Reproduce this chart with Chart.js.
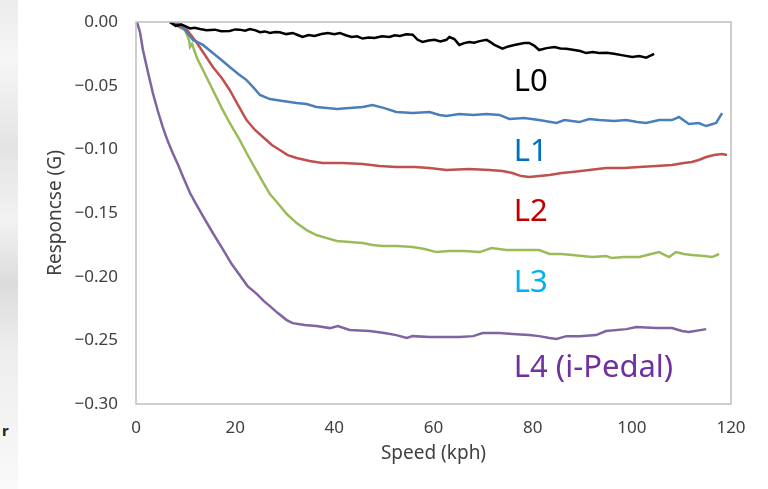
<!DOCTYPE html>
<html>
<head>
<meta charset="utf-8">
<script src="https://cdn.jsdelivr.net/npm/chart.js@4.4.0/dist/chart.umd.min.js"></script>
<style>
  html, body { margin: 0; padding: 0; background: #fff; }
  #wrap { position: relative; width: 768px; height: 489px; overflow: hidden; }
  #slideEdge {
    position: absolute; left: 0; top: 0; width: 18px; height: 489px;
    background: linear-gradient(180deg, #ececec 0%, #f6f6f6 12%, #e4e4e4 30%, #f2f2f2 45%, #dcdcdc 58%, #eeeeee 72%, #f4f4f4 88%, #fafafa 100%);
  }
  #stray { position: absolute; left: 2px; top: 420px; font: bold 15px "Noto Sans", sans-serif; color: #222; }
  canvas { position: absolute; left: 0; top: 0; }
</style>
</head>
<body>
<div id="wrap">
  <div id="slideEdge"></div>
  <div id="stray">r</div>
  <canvas id="chart" width="768" height="489"></canvas>
</div>
<script>
// Speed (kph) / response (G) pairs
const l0Speed = [6.8, 8.0, 9.2, 10.9, 11.8, 12.9, 14.2, 15.9, 17.2, 18.9, 20.0, 20.9, 22.0, 23.0, 24.1, 25.0, 26.0, 27.0, 28.1, 29.0, 30.3, 31.6, 32.6, 33.6, 34.8, 36.0, 37.4, 38.7, 40.0, 41.1, 42.3, 43.5, 44.6, 45.7, 46.9, 48.1, 49.6, 51.1, 52.2, 53.2, 54.5, 55.8, 56.8, 57.8, 59.0, 60.2, 61.4, 62.6, 63.2, 64.2, 65.2, 66.2, 67.2, 68.2, 69.3, 70.7, 71.5, 72.3, 73.9, 75.1, 76.3, 77.3, 78.3, 79.3, 80.3, 81.3, 82.8, 84.4, 85.6, 86.8, 88.4, 89.6, 90.8, 92.1, 93.4, 94.9, 96.4, 98.2, 100.1, 101.5, 102.9, 104.5];
const l0Resp = [0.000, -0.003, -0.002, -0.005, -0.0045, -0.0055, -0.0065, -0.006, -0.0072, -0.007, -0.0058, -0.006, -0.0068, -0.0055, -0.0066, -0.008, -0.0074, -0.0086, -0.0079, -0.008, -0.0095, -0.0086, -0.0102, -0.0118, -0.0102, -0.011, -0.0094, -0.0086, -0.0096, -0.0086, -0.0104, -0.0118, -0.0112, -0.013, -0.0121, -0.0126, -0.0112, -0.0118, -0.0104, -0.011, -0.0096, -0.010, -0.014, -0.0157, -0.0146, -0.014, -0.0152, -0.014, -0.0118, -0.0134, -0.018, -0.0166, -0.0157, -0.0162, -0.015, -0.014, -0.0158, -0.018, -0.021, -0.0192, -0.018, -0.0172, -0.0165, -0.0165, -0.0185, -0.022, -0.0205, -0.0196, -0.0208, -0.021, -0.022, -0.0228, -0.0244, -0.0236, -0.0244, -0.0241, -0.025, -0.0262, -0.0275, -0.0267, -0.028, -0.025];

const l1Speed = [6.8, 8.9, 11.5, 13.5, 15.5, 17.3, 18.9, 20.7, 22.3, 23.8, 25.0, 27.0, 29.6, 32.4, 34.4, 36.4, 38.5, 40.5, 43.1, 45.7, 47.7, 50.1, 52.5, 55.8, 59.2, 61.2, 62.6, 65.2, 68.0, 70.7, 73.3, 75.3, 78.3, 81.3, 84.8, 86.4, 89.4, 91.4, 93.4, 96.4, 98.9, 101.1, 102.9, 105.5, 108.1, 109.5, 111.5, 113.5, 115.0, 117.0, 118.2];
const l1Resp = [0.000, -0.0016, -0.0141, -0.018, -0.0244, -0.030, -0.0353, -0.041, -0.0456, -0.0519, -0.0573, -0.0605, -0.062, -0.0636, -0.0644, -0.0668, -0.0676, -0.0683, -0.0676, -0.0668, -0.0652, -0.0676, -0.0707, -0.0715, -0.0707, -0.073, -0.0738, -0.0723, -0.073, -0.0723, -0.073, -0.0762, -0.0754, -0.077, -0.0793, -0.077, -0.0786, -0.0762, -0.077, -0.0778, -0.077, -0.0786, -0.0793, -0.077, -0.077, -0.0746, -0.0801, -0.0793, -0.0817, -0.0793, -0.0715];

const l2Speed = [7.4, 10.3, 12.3, 13.9, 15.5, 17.3, 18.9, 20.7, 22.3, 24.0, 25.6, 27.4, 29.0, 30.6, 32.4, 35.0, 37.6, 41.7, 45.7, 49.1, 52.5, 56.2, 59.2, 62.6, 67.2, 71.3, 73.9, 75.9, 77.7, 79.3, 81.3, 83.4, 85.8, 88.0, 91.4, 94.8, 98.4, 101.5, 104.9, 108.1, 110.5, 112.1, 113.5, 115.0, 116.6, 118.2, 119.2];
const l2Resp = [-0.0008, -0.0063, -0.0165, -0.0259, -0.0353, -0.044, -0.0534, -0.066, -0.077, -0.0848, -0.0903, -0.0966, -0.1005, -0.1045, -0.1068, -0.1092, -0.1108, -0.1108, -0.1115, -0.1131, -0.1139, -0.1139, -0.1147, -0.1163, -0.1155, -0.1163, -0.117, -0.1186, -0.121, -0.1218, -0.121, -0.1202, -0.1186, -0.1178, -0.1163, -0.1147, -0.1147, -0.1139, -0.1131, -0.1123, -0.1108, -0.110, -0.1084, -0.106, -0.1045, -0.1037, -0.1045];

const l3Speed = [7.2, 9.9, 10.7, 10.9, 11.3, 12.3, 13.9, 15.5, 17.3, 18.9, 20.7, 22.3, 24.0, 25.6, 27.0, 28.4, 30.4, 32.4, 34.4, 36.4, 38.5, 40.5, 43.1, 45.7, 47.7, 49.7, 52.7, 55.8, 58.2, 60.6, 63.2, 66.2, 69.3, 71.7, 74.7, 78.3, 81.3, 83.4, 85.8, 88.0, 92.0, 94.8, 96.0, 98.4, 101.5, 103.9, 105.5, 106.7, 107.5, 108.9, 110.5, 112.1, 114.6, 116.2, 117.6];
const l3Resp = [-0.0008, -0.0063, -0.0141, -0.0196, -0.0173, -0.0283, -0.0408, -0.0534, -0.0676, -0.0793, -0.0911, -0.1029, -0.1147, -0.1257, -0.1351, -0.1414, -0.1508, -0.1579, -0.1634, -0.1673, -0.1697, -0.172, -0.1728, -0.1736, -0.1752, -0.176, -0.176, -0.1767, -0.1783, -0.1807, -0.1799, -0.1799, -0.1807, -0.1775, -0.1791, -0.1791, -0.1791, -0.1822, -0.1822, -0.183, -0.1846, -0.1838, -0.1854, -0.1846, -0.1846, -0.1822, -0.1807, -0.183, -0.1846, -0.1807, -0.1822, -0.183, -0.1838, -0.1846, -0.1822];

const l4Speed = [0.2, 0.8, 1.4, 2.4, 3.4, 4.4, 5.4, 6.4, 7.4, 8.5, 9.5, 10.9, 11.9, 13.5, 15.5, 17.5, 19.3, 20.9, 22.5, 24.4, 25.8, 27.0, 28.6, 30.4, 31.6, 34.0, 36.4, 39.1, 40.7, 43.1, 47.1, 50.1, 52.5, 54.6, 55.8, 59.2, 62.2, 65.2, 68.0, 69.9, 73.3, 75.9, 79.3, 81.3, 83.4, 84.8, 86.8, 89.4, 92.8, 94.8, 98.9, 100.9, 104.9, 108.1, 110.1, 111.5, 115.0];
const l4Resp = [0.000, -0.0079, -0.022, -0.0393, -0.0558, -0.0699, -0.0825, -0.0935, -0.1029, -0.1123, -0.1218, -0.1343, -0.1414, -0.1524, -0.1657, -0.1783, -0.1901, -0.1987, -0.2074, -0.2137, -0.2192, -0.2231, -0.2286, -0.2341, -0.2365, -0.238, -0.2388, -0.2404, -0.2388, -0.2419, -0.2427, -0.2443, -0.2459, -0.2482, -0.2467, -0.2474, -0.2474, -0.2474, -0.2467, -0.2443, -0.2443, -0.2451, -0.2459, -0.2467, -0.2482, -0.249, -0.2467, -0.2467, -0.2459, -0.2427, -0.2412, -0.2396, -0.2404, -0.2404, -0.2427, -0.2435, -0.2412];

const seriesNames = ['L0', 'L1', 'L2', 'L3', 'L4 (i-Pedal)'];
const lineColors = ['#000000', '#4a7ebb', '#c0504d', '#9bbb59', '#8064a2'];
const labelColors = ['#000000', '#0070c0', '#c00000', '#00b0f0', '#7030a0'];
// baseline anchor of each in-plot label, in data units (speed, response)
const labelSpeed = [76.2, 76.2, 76.2, 76.2, 76.2];
const labelResp = [-0.0542, -0.1092, -0.1563, -0.2121, -0.2789];

const xTicks = [0, 20, 40, 60, 80, 100, 120];
const yTicks = [0, -0.05, -0.10, -0.15, -0.20, -0.25, -0.30];

const speeds = [l0Speed, l1Speed, l2Speed, l3Speed, l4Speed];
const resps = [l0Resp, l1Resp, l2Resp, l3Resp, l4Resp];

function pairs(xs, ys) {
  return xs.map((x, i) => ({ x: x, y: ys[i] }));
}

const font = '"Noto Sans", "Open Sans", sans-serif';

// frame around the plot + the level labels
const framePlugin = {
  id: 'frameAndLabels',
  afterDatasetsDraw(chart) {
    const { ctx, chartArea, scales } = chart;
    ctx.save();
    ctx.strokeStyle = '#bfbfbf';
    ctx.lineWidth = 1.5;
    ctx.strokeRect(chartArea.left, chartArea.top, chartArea.right - chartArea.left, chartArea.bottom - chartArea.top);
    ctx.font = '31px ' + font;
    ctx.textBaseline = 'alphabetic';
    ctx.textAlign = 'left';
    seriesNames.forEach((name, i) => {
      ctx.fillStyle = labelColors[i];
      ctx.fillText(name, scales.x.getPixelForValue(labelSpeed[i]), scales.y.getPixelForValue(labelResp[i]));
    });
    ctx.restore();
  }
};

new Chart(document.getElementById('chart'), {
  type: 'line',
  data: {
    datasets: seriesNames.map((name, i) => ({
      label: name,
      data: pairs(speeds[i], resps[i]),
      borderColor: lineColors[i],
      borderWidth: 2.5,
      pointRadius: 0,
      tension: 0,
      fill: false
    }))
  },
  options: {
    responsive: false,
    animation: false,
    layout: { padding: { left: 44, right: 37, top: 22, bottom: 24 } },
    plugins: {
      legend: { display: false },
      tooltip: { enabled: false }
    },
    scales: {
      x: {
        type: 'linear',
        min: 0,
        max: 120,
        afterBuildTicks: (axis) => { axis.ticks = xTicks.map(v => ({ value: v })); },
        afterFit: (axis) => { axis.height = 61; },
        grid: { display: false },
        border: { display: false },
        ticks: { color: '#404040', font: { family: font, size: 17 }, padding: 6 },
        title: { display: true, text: 'Speed (kph)', color: '#404040', font: { family: font, size: 19 }, padding: { top: 4, bottom: 0 } }
      },
      y: {
        type: 'linear',
        min: -0.30,
        max: 0,
        afterBuildTicks: (axis) => { axis.ticks = yTicks.map(v => ({ value: v })); },
        afterFit: (axis) => { axis.width = 92; },
        grid: { display: false },
        border: { display: false },
        ticks: {
          color: '#404040',
          font: { family: font, size: 17 },
          padding: 10,
          callback: (v) => (v < 0 ? '\u2212' : '') + Math.abs(v).toFixed(2)
        },
        title: { display: true, text: 'Responcse (G)', color: '#404040', font: { family: font, size: 19 }, padding: { top: 0, bottom: 4 } }
      }
    }
  },
  plugins: [framePlugin]
});
</script>
</body>
</html>
